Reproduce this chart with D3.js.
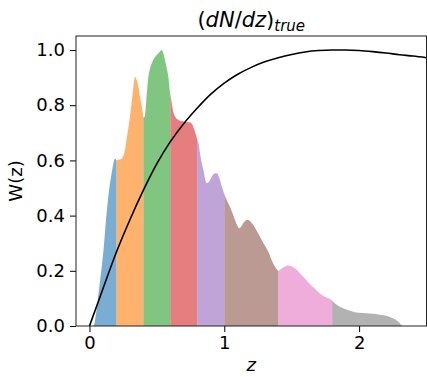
<!DOCTYPE html>
<html>
<head>
<meta charset="utf-8">
<script src="https://cdn.jsdelivr.net/npm/d3@7"></script>
<style>
  html, body { margin: 0; padding: 0; background: #fff; }
  svg text { font-family: "DejaVu Sans", sans-serif; fill: #000; }
</style>
</head>
<body>
<svg id="chart" width="427" height="377"></svg>
<script>
// Redshift grid and normalised true dN/dz of the full sample
const nzZ = [0.03, 0.05, 0.07, 0.09, 0.104, 0.12, 0.14, 0.155, 0.17, 0.18, 0.19, 0.2,
  0.22, 0.24, 0.26, 0.28, 0.30, 0.32, 0.338, 0.35, 0.363, 0.375, 0.388, 0.40,
  0.41, 0.42, 0.437, 0.45, 0.462, 0.48, 0.499, 0.52, 0.536, 0.55, 0.56, 0.575, 0.585, 0.598, 0.6,
  0.605, 0.622, 0.64, 0.66, 0.709, 0.74, 0.758, 0.783, 0.8,
  0.81, 0.82, 0.845, 0.87, 0.89, 0.907, 0.925, 0.944, 0.968, 0.985, 1.0,
  1.02, 1.042, 1.06, 1.079, 1.095, 1.111, 1.125, 1.141, 1.16, 1.178, 1.195, 1.215, 1.24,
  1.264, 1.29, 1.314, 1.335, 1.351, 1.37, 1.393, 1.4,
  1.413, 1.43, 1.45, 1.47, 1.487, 1.505, 1.524, 1.545, 1.561, 1.585, 1.61, 1.635, 1.66,
  1.685, 1.709, 1.75, 1.796, 1.8,
  1.807, 1.84, 1.881, 1.92, 1.956, 2.0, 2.055, 2.1, 2.153, 2.19, 2.228, 2.255, 2.277, 2.3, 2.326];
const nzVal = [0, 0.05, 0.13, 0.21, 0.275, 0.37, 0.47, 0.525, 0.57, 0.595, 0.607, 0.6,
  0.603, 0.607, 0.63, 0.69, 0.758, 0.84, 0.903, 0.89, 0.867, 0.83, 0.795, 0.755,
  0.758, 0.81, 0.903, 0.935, 0.952, 0.97, 0.982, 0.993, 1.0, 0.985, 0.964, 0.93, 0.903, 0.843, 0.838,
  0.825, 0.776, 0.755, 0.746, 0.74, 0.738, 0.734, 0.704, 0.674,
  0.66, 0.626, 0.565, 0.517, 0.525, 0.541, 0.552, 0.553, 0.529, 0.5, 0.478,
  0.455, 0.432, 0.41, 0.384, 0.365, 0.354, 0.36, 0.372, 0.383, 0.384, 0.378, 0.366, 0.345,
  0.324, 0.3, 0.281, 0.26, 0.239, 0.22, 0.203, 0.2,
  0.203, 0.21, 0.215, 0.219, 0.218, 0.215, 0.209, 0.2, 0.191, 0.178, 0.166, 0.152, 0.14,
  0.129, 0.118, 0.105, 0.094, 0.092,
  0.088, 0.075, 0.064, 0.057, 0.052, 0.048, 0.046, 0.044, 0.041, 0.038, 0.033, 0.027, 0.021, 0.011, 0];

// Tomographic bin edges
const binEdges = [0, 0.2, 0.4, 0.6, 0.8, 1.0, 1.4, 1.8, 2.5];

// Weight function W(z)
const wZ = [0, 0.1, 0.2, 0.3, 0.4, 0.5, 0.6, 0.7, 0.8, 0.9, 1.0, 1.1, 1.2, 1.3, 1.4, 1.5, 1.6, 1.7, 1.8, 1.9, 2.0, 2.1, 2.2, 2.3, 2.4, 2.5];
const wVal = [0, 0.135, 0.268, 0.385, 0.492, 0.588, 0.668, 0.734, 0.79, 0.84, 0.88, 0.912, 0.937, 0.957, 0.972, 0.984, 0.993, 0.998, 1.0, 1.0, 0.998, 0.994, 0.989, 0.983, 0.978, 0.972];

const xTicks = [0, 1, 2];
const yTicks = [0, 0.2, 0.4, 0.6, 0.8, 1.0];
const palette = ["#1f77b4", "#ff7f0e", "#2ca02c", "#d62728", "#9467bd", "#8c564b", "#e377c2", "#7f7f7f"];

const svg = d3.select("#chart");
const m = { left: 76, right: 426.5, top: 36, bottom: 326 };

const x = d3.scaleLinear().domain([-0.1, 2.5]).range([m.left, m.right]);
const y = d3.scaleLinear().domain([0, 1.0507]).range([m.bottom, m.top]);

svg.append("clipPath").attr("id", "plotClip")
  .append("rect").attr("x", m.left).attr("y", m.top)
  .attr("width", m.right - m.left).attr("height", m.bottom - m.top);

const nz = nzZ.map((z, i) => ({ z, v: nzVal[i] }));
const interp = z => {
  if (z <= nzZ[0] || z >= nzZ[nzZ.length - 1]) return 0;
  const i = d3.bisectRight(nzZ, z);
  const a = nz[i - 1], b = nz[i];
  return a.v + (b.v - a.v) * (z - a.z) / (b.z - a.z);
};

const area = d3.area()
  .x(d => x(d.z)).y0(y(0)).y1(d => y(d.v))
  .curve(d3.curveMonotoneX);

const plot = svg.append("g").attr("clip-path", "url(#plotClip)");

// One filled region per redshift bin
binEdges.slice(0, -1).forEach((lo, i) => {
  const hi = binEdges[i + 1];
  const pts = [{ z: lo, v: interp(lo) }]
    .concat(nz.filter(d => d.z > lo && d.z < hi))
    .concat([{ z: hi, v: interp(hi) }]);
  plot.append("path")
    .datum(pts)
    .attr("d", area)
    .attr("fill", palette[i])
    .attr("fill-opacity", 0.6);
});

// W(z) curve
const line = d3.line().x(d => x(d.z)).y(d => y(d.v)).curve(d3.curveMonotoneX);
plot.append("path")
  .datum(wZ.map((z, i) => ({ z, v: wVal[i] })))
  .attr("d", line)
  .attr("fill", "none")
  .attr("stroke", "#000")
  .attr("stroke-width", 1.6);

// Axes
const xAxis = d3.axisBottom(x).tickValues(xTicks).tickFormat(d3.format("d")).tickSize(6).tickPadding(4);
const yAxis = d3.axisLeft(y).tickValues(yTicks).tickFormat(d3.format(".1f")).tickSize(6).tickPadding(5);

const gx = svg.append("g").attr("transform", `translate(0,${m.bottom})`).call(xAxis);
const gy = svg.append("g").attr("transform", `translate(${m.left},0)`).call(yAxis);
[gx, gy].forEach(g => {
  g.select(".domain").remove();
  g.selectAll(".tick line").attr("stroke", "#000").attr("stroke-width", 1);
  g.selectAll(".tick text").attr("font-size", 18).attr("fill", "#000")
    .style("font-family", "'DejaVu Sans', sans-serif");
});

// Frame
svg.append("rect")
  .attr("x", m.left).attr("y", m.top)
  .attr("width", m.right - m.left).attr("height", m.bottom - m.top)
  .attr("fill", "none").attr("stroke", "#222").attr("stroke-width", 1);

// Axis labels
svg.append("text")
  .attr("x", (m.left + m.right) / 2).attr("y", 371)
  .attr("text-anchor", "middle").attr("font-size", 18).attr("font-style", "italic")
  .text("z");

svg.append("text")
  .attr("transform", `translate(22,${(m.top + m.bottom) / 2}) rotate(-90)`)
  .attr("text-anchor", "middle").attr("font-size", 18)
  .text("W(z)");

// Title: (dN/dz)_true
const title = svg.append("text")
  .attr("x", (m.left + m.right) / 2).attr("y", 27)
  .attr("text-anchor", "middle").attr("font-size", 21);
title.append("tspan").text("(");
title.append("tspan").attr("font-style", "italic").text("dN");
title.append("tspan").text("/");
title.append("tspan").attr("font-style", "italic").text("dz");
title.append("tspan").text(")");
title.append("tspan").attr("font-style", "italic").attr("font-size", 15).attr("dy", 4).text("true");
</script>
</body>
</html>
